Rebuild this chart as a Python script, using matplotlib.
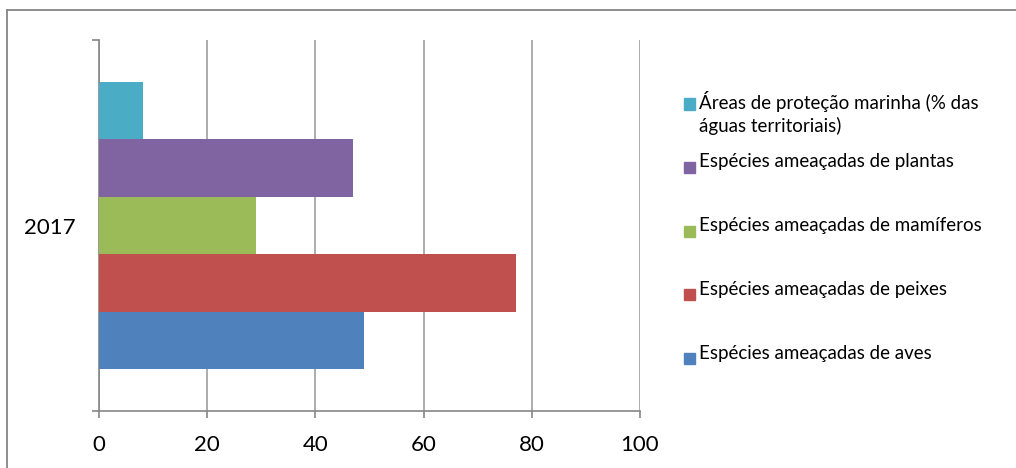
import matplotlib.pyplot as plt
from matplotlib.lines import Line2D
from matplotlib.patches import Rectangle

plt.rcParams['font.family'] = ['Lato', 'DejaVu Sans']

# Dados
ano = '2017'
series = ['Espécies ameaçadas de aves',
          'Espécies ameaçadas de peixes',
          'Espécies ameaçadas de mamíferos',
          'Espécies ameaçadas de plantas',
          'Áreas de proteção marinha (% das\náguas territoriais)']
valores = [49, 77, 29, 47, 8.1]
cores = ['#4F81BD', '#C0504D', '#9BBB59', '#8064A2', '#4BACC6']
xticks = [0, 20, 40, 60, 80, 100]

fig = plt.figure(figsize=(10.16, 4.68), dpi=100)
ax = fig.add_axes([99 / 1016, 57 / 468, 541 / 1016, 371 / 468])

h = 0.155
n = len(series)
for i, (nome, v, c) in enumerate(zip(series, valores, cores)):
    ax.barh((i - (n - 1) / 2) * h, v, height=h, color=c, label=nome, zorder=3)

ax.set_xlim(0, 100)
ax.set_ylim(-0.5, 0.5)
ax.set_xticks(xticks)
ax.set_xticklabels([str(t) for t in xticks], fontsize=16)
ax.set_yticks([-0.5, 0.5])
ax.set_yticklabels([])
ax.set_yticks([0], minor=True)
ax.set_yticklabels([ano], minor=True, fontsize=16)
ax.tick_params(axis='y', which='minor', length=0, pad=17)
ax.tick_params(axis='y', which='major', length=5, color='#868686', width=1.2)
ax.tick_params(axis='x', length=5, color='#868686', width=1.2, pad=12)

ax.grid(axis='x', color='#A6A6A6', linewidth=1.3, zorder=0)
ax.spines['top'].set_visible(False)
ax.spines['right'].set_visible(False)
for s in ['left', 'bottom']:
    ax.spines[s].set_color('#868686')
    ax.spines[s].set_linewidth(1.2)

# Legenda (ordem invertida, como no Excel)
leg_y = [104, 167, 231, 294, 358]
for (nome, c), y in zip(list(zip(series, cores))[::-1], leg_y):
    fig.add_artist(Rectangle((684 / 1016, 1 - (y + 5.5) / 468), 11 / 1016, 11 / 468,
                             transform=fig.transFigure, color=c))
    fig.text(699 / 1016, 1 - (y - 13.5) / 468, nome, fontsize=13.5, va='top', ha='left',
             linespacing=1.35)

# Moldura
fig.add_artist(Line2D([7 / 1016, 7 / 1016], [0, 1 - 10 / 468], transform=fig.transFigure,
                      color='#868686', linewidth=1.3))
fig.add_artist(Line2D([7 / 1016, 1], [1 - 10 / 468, 1 - 10 / 468], transform=fig.transFigure,
                      color='#868686', linewidth=1.3))

fig.savefig('out.png', dpi=100)
